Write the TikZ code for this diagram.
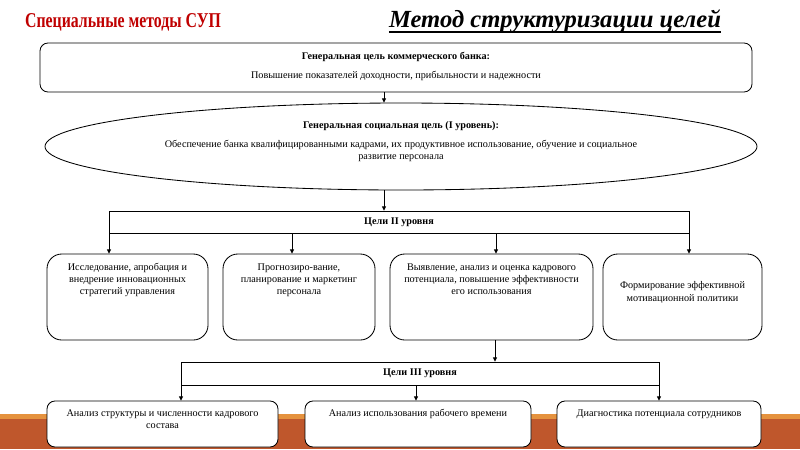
\documentclass[tikz,border=0pt]{standalone}
\usepackage{fontspec}
\setmainfont{Liberation Serif}
\newfontfamily\TitleFont{Liberation Serif}[FakeStretch=0.75]
\usetikzlibrary{shapes.geometric,arrows.meta}
\definecolor{TitleRed}{RGB}{192,0,0}
\definecolor{BandLight}{RGB}{229,146,62}
\definecolor{BandDark}{RGB}{191,87,44}
\newcommand{\Px}{0.025cm}
\newcommand{\SmallText}{\fontsize{7.25}{8.6}\selectfont}

\begin{document}
\begin{tikzpicture}[x=\Px,y=-\Px,
    roundbox/.style={draw, fill=white, line width=0.6pt, rounded corners=5.7pt, inner sep=0pt},
    bigbox/.style={draw, fill=white, line width=0.6pt, rounded corners=10.5pt, inner sep=0pt, minimum height=86*\Px},
    flatbox/.style={draw, fill=white, line width=0.6pt, inner sep=0pt, font=\SmallText\bfseries},
    txt/.style={font=\SmallText, align=center, inner sep=0pt},
    arr/.style={line width=0.6pt, -{Triangle[length=3pt,width=2.8pt]}}]
  \fill[white] (0,0) rectangle (800,449);
  \fill[BandLight] (0,414) rectangle (800,419);
  \fill[BandDark] (0,419) rectangle (800,449);

  \node[anchor=base, inner sep=0pt, text=TitleRed, font=\TitleFont\fontsize{15}{18}\selectfont\bfseries] (TitleLeft) at (123,27) {Специальные методы СУП};
  \node[anchor=base, inner sep=0pt, font=\fontsize{17.5}{20}\selectfont\bfseries\itshape] (TitleRight) at (555,27) {Метод структуризации целей};
  \draw[line width=1.4pt] ([yshift=-5*\Px]TitleRight.base west) -- ([yshift=-5*\Px]TitleRight.base east);

  \node[roundbox, minimum width=712*\Px, minimum height=49*\Px] (GoalBank) at (396,67.5) {};
  \node[txt, font=\SmallText\bfseries] (GoalBankHead) at (396,57) {Генеральная цель коммерческого банка:};
  \node[txt] (GoalBankText) at (396,76) {Повышение показателей доходности, прибыльности и надежности};

  \node[draw, ellipse, fill=white, line width=0.6pt, inner sep=0pt, minimum width=712*\Px, minimum height=87*\Px] (GoalSocial) at (401,146.5) {};
  \node[txt, font=\SmallText\bfseries] (GoalSocialHead) at (401,126) {Генеральная социальная цель (I уровень):};
  \node[txt] (GoalSocialText) at (401,151) {Обеспечение банка квалифицированными кадрами, их продуктивное использование, обучение и социальное\\развитие персонала};

  \node[flatbox, minimum width=580*\Px, minimum height=22*\Px] (LevelTwo) at (399,222) {Цели II уровня};

  \node[bigbox, minimum width=161*\Px] (TaskA) at (127.5,297) {};
  \node[bigbox, minimum width=152*\Px] (TaskB) at (299,297) {};
  \node[bigbox, minimum width=203*\Px] (TaskC) at (491.5,297) {};
  \node[bigbox, minimum width=159*\Px] (TaskD) at (682.5,297) {};
  \node[txt, anchor=north] (TaskAText) at ([yshift=-9.5*\Px]TaskA.north) {Исследование, апробация и\\внедрение инновационных\\стратегий управления};
  \node[txt, anchor=north] (TaskBText) at ([yshift=-9.5*\Px]TaskB.north) {Прогнозиро-вание,\\планирование и маркетинг\\персонала};
  \node[txt, anchor=north] (TaskCText) at ([yshift=-9.5*\Px]TaskC.north) {Выявление, анализ и оценка кадрового\\потенциала, повышение эффективности\\его использования};
  \node[txt, anchor=north] (TaskDText) at ([yshift=-28*\Px]TaskD.north) {Формирование эффективной\\мотивационной политики};

  \node[flatbox, minimum width=478*\Px, minimum height=23*\Px] (LevelThree) at (420,373.5) {Цели III уровня};

  \node[roundbox, minimum width=231*\Px, minimum height=46*\Px] (SubA) at (162.5,424) {};
  \node[roundbox, minimum width=226*\Px, minimum height=46*\Px] (SubB) at (418,424) {};
  \node[roundbox, minimum width=204*\Px, minimum height=46*\Px] (SubC) at (659,424) {};
  \node[txt, anchor=north] (SubAText) at ([yshift=-8.5*\Px]SubA.north) {Анализ структуры и численности кадрового\\состава};
  \node[txt, anchor=north] (SubBText) at ([yshift=-8.5*\Px]SubB.north) {Анализ использования рабочего времени};
  \node[txt, anchor=north] (SubCText) at ([yshift=-8.5*\Px]SubC.north) {Диагностика потенциала сотрудников};

  \coordinate (Spine) at (384,0);
  \draw[arr] (GoalBank.south -| Spine) -- (GoalSocial.north -| Spine);
  \draw[arr] (GoalSocial.south -| Spine) -- (LevelTwo.north -| Spine);
  \foreach \x/\t in {109/TaskA,292/TaskB,496/TaskC,689/TaskD}
    \draw[arr] (LevelTwo.south -| \x,0) -- (\t.north -| \x,0);
  \draw[arr] (TaskC.south -| 495,0) -- (LevelThree.north -| 495,0);
  \foreach \x/\t in {181/SubA,416/SubB,659/SubC}
    \draw[arr] (LevelThree.south -| \x,0) -- (\t.north -| \x,0);
\end{tikzpicture}
\end{document}
